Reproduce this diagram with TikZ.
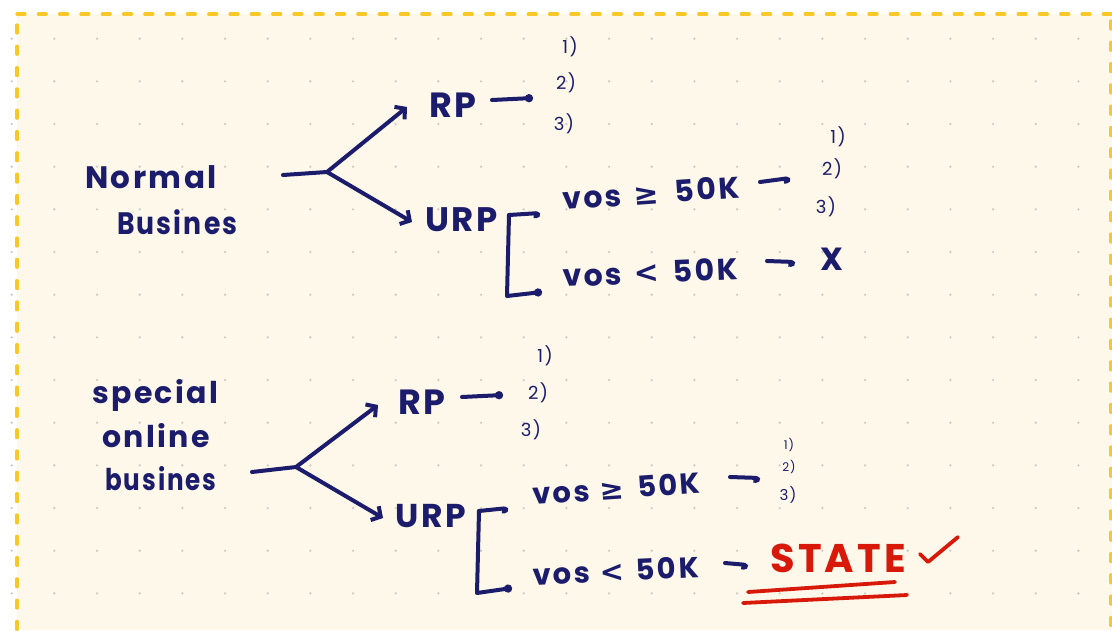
\documentclass[tikz,border=0pt]{standalone}
\usepackage{fontspec}
\setmainfont{Poppins}
\newfontfamily\handfont[LetterSpace=8]{Poppins}
\newfontfamily\symfont{DejaVu Sans}
\usetikzlibrary{arrows.meta}
\definecolor{ink}{HTML}{1C1C6C}
\definecolor{redink}{HTML}{D8190A}
\definecolor{paper}{HTML}{FDF8E9}
\definecolor{framecol}{HTML}{F8C828}
\definecolor{griddot}{HTML}{CDCDC8}

\begin{document}
\begin{tikzpicture}[x=1pt,y=-1pt,
  pen/.style={draw=ink, line width=4pt, line cap=round, line join=round},
  branch/.style={pen, -{Straight Barb[length=7pt,width=16pt]}},
  hookend/.style={pen, -{Hooks[right,length=5pt,width=10pt,arc=210]}},
  dotend/.style={pen, -{Circle[length=8pt]}},
  word/.style={text=ink, inner sep=0pt, anchor=base west,
    font=\handfont\bfseries\fontsize{#1}{#1}\selectfont},
  num/.style={text=ink, inner sep=0pt,
    font=\handfont\fontsize{#1}{#1}\selectfont},
  redpen/.style={draw=redink, line width=3.8pt, line cap=round, line join=round}]

% page and paper
\useasboundingbox (0,0) rectangle (1112,630);
\fill[white] (0,0) rectangle (1112,630);
\fill[paper] (17,14) rectangle (1112,630);

% dot grid
\foreach \i in {0,...,25}
  \foreach \j in {0,...,13}
    \fill[griddot] ({11.7+42.67*\i},{38.7+42.67*\j}) circle (1.3);

% dashed frame
\begin{scope}[draw=framecol, line width=3.2pt, line cap=round,
    dash pattern=on 8pt off 13.3pt]
  \draw (17,14) -- (1111,14);
  \draw (17,25) -- (17,640);
  \draw (1111,21) -- (1111,640);
\end{scope}

% ---------- normal business ----------
\node[word=31] (normal) at (85,188) {Normal};
\node[word=31, xscale=0.86] (busA) at (117,234) {Busines};
\coordinate (startA) at (283,175);
\coordinate (forkA) at (327,172);
\coordinate (tipRPA) at (407,107);
\coordinate (tipURPA) at (412,222);
\draw[pen] (startA) -- (forkA);
\draw[branch] (forkA) -- (tipRPA);
\draw[branch] (forkA) -- (tipURPA);

\node[word=35] (rpA) at (429,117) {RP};
\node[word=34] (urpA) at (425,231) {URP};

\coordinate (rpAs) at (492,100);
\coordinate (rpAe) at (533,98);
\draw[dotend] (rpAs) -- (rpAe);
\node[num=18] (rpA1) at (570,47) {1)};
\node[num=18] (rpA2) at (566,83) {2)};
\node[num=18] (rpA3) at (564,124) {3)};

\coordinate (brA0) at (509,215);
\coordinate (brAh) at (540,213);
\coordinate (brAc) at (507,296);
\coordinate (brAd) at (542,292);
\draw[hookend] (brA0) -- (brAh);
\draw[dotend] (brA0) -- (brAc) -- (brAd);

\node[word=30, rotate=4] (geA) at (563,210)
  {vos\hspace{12pt}{\symfont\bfseries ≥}\hspace{16pt}50K};
\coordinate (geAs) at (760,182);
\coordinate (geAe) at (790,178);
\draw[hookend] (geAs) -- (geAe);
\node[num=18] (geA1) at (838,137) {1)};
\node[num=18] (geA2) at (832,169) {2)};
\node[num=18] (geA3) at (826,207) {3)};

\node[word=30, rotate=2.5] (ltA) at (563,287)
  {vos\hspace{12pt}{\symfont\bfseries <}\hspace{14pt}50K};
\coordinate (ltAs) at (767,261);
\coordinate (ltAe) at (795,262);
\draw[hookend] (ltAs) -- (ltAe);
\node[word=32, anchor=center] (noA) at (832,259) {X};

% ---------- special online business ----------
\node[word=30] (special) at (92,403) {special};
\node[word=30] (online) at (102,447) {online};
\node[word=30, xscale=0.82] (busB) at (105,490) {busines};
\coordinate (startB) at (252,472);
\coordinate (forkB) at (296,467);
\coordinate (tipRPB) at (378,405);
\coordinate (tipURPB) at (383,518);
\draw[pen] (startB) -- (forkB);
\draw[branch] (forkB) -- (tipRPB);
\draw[branch] (forkB) -- (tipURPB);

\node[word=35] (rpB) at (398,414) {RP};
\node[word=33] (urpB) at (395,527) {URP};

\coordinate (rpBs) at (462,397);
\coordinate (rpBe) at (503,395);
\draw[dotend] (rpBs) -- (rpBe);
\node[num=18] (rpB1) at (545,356) {1)};
\node[num=18] (rpB2) at (538,393) {2)};
\node[num=18] (rpB3) at (531,430) {3)};

\coordinate (brB0) at (479,511);
\coordinate (brBh) at (508,508);
\coordinate (brBc) at (477,593);
\coordinate (brBd) at (512,588);
\draw[hookend] (brB0) -- (brBh);
\draw[dotend] (brB0) -- (brBc) -- (brBd);

\node[word=29, rotate=4] (geB) at (533,505)
  {vos\hspace{10pt}{\symfont\bfseries ≥}\hspace{14pt}50K};
\coordinate (geBs) at (730,477);
\coordinate (geBe) at (760,478);
\draw[hookend] (geBs) -- (geBe);
\node[num=12] (geB1) at (789,445) {1)};
\node[num=12] (geB2) at (789,467) {2)};
\node[num=15] (geB3) at (788,495) {3)};

\node[word=29, rotate=2.5] (ltB) at (533,585)
  {vos\hspace{10pt}{\symfont\bfseries <}\hspace{12pt}50K};
\coordinate (ltBs) at (725,563);
\coordinate (ltBe) at (748,565);
\draw[hookend] (ltBs) -- (ltBe);
\node[word=40, text=redink] (state) at (770,572) {STATE};
\coordinate (chkA) at (920,554);
\coordinate (chkB) at (928,562);
\coordinate (chkC) at (958,537);
\draw[redpen] (chkA) -- (chkB) -- (chkC);
\coordinate (ulAs) at (748,592);
\coordinate (ulAe) at (895,582);
\coordinate (ulBs) at (743,603);
\coordinate (ulBe) at (907,595);
\draw[redpen] (ulAs) -- (ulAe);
\draw[redpen] (ulBs) -- (ulBe);

\end{tikzpicture}
\end{document}
